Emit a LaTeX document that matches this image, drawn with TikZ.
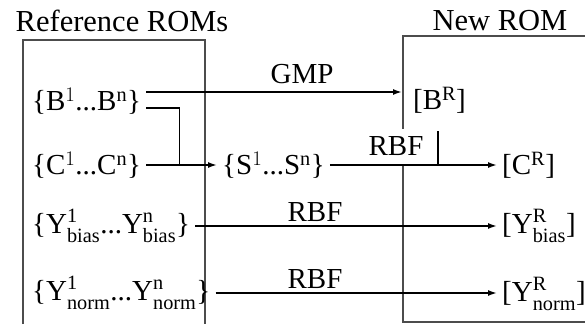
\documentclass[tikz,border=0pt]{standalone}
\usepackage{fontspec}
\setmainfont{Liberation Serif}
\usetikzlibrary{arrows.meta}

% raised superscript over lowered subscript
\newcommand{\supsub}[2]{$^{\raisebox{2pt}{$\scriptstyle\mathrm{#1}$}}_{\raisebox{-2.5pt}{$\scriptstyle\mathrm{#2}$}}$}

\begin{document}
\begin{tikzpicture}[x=1pt,y=-1pt]
	\tikzset{txt/.style = {font=\fontsize{29}{34}\selectfont, inner xsep=5pt, inner ysep=2pt},
		head/.style = {font=\fontsize{30.5}{36}\selectfont},
		arr/.style = {-{Latex[length=9pt,width=6pt]}, line width=1.6pt},
		wire/.style = {line width=1.6pt},
		frame/.style = {draw=black!70, line width=1.2pt}}
	\useasboundingbox (0,0) rectangle (585,324);

	% the two frames
	\draw[frame] (23,324) -- (23,40) -- (205,40) -- (205,324);
	\draw[frame] (585,36) -- (403,36) -- (403,322) -- (585,322);

	\node[head] (refT) at (122,21) {Reference ROMs};
	\node[head] (newT) at (500,21) {New ROM};

	% snapshots of the reference ROMs
	\node[txt, anchor=west] (refB) at (27,101) {\{B$^{1}$...B$^{\mathrm{n}}$\}};
	\node[txt, anchor=west] (refC) at (27,165) {\{C$^{1}$...C$^{\mathrm{n}}$\}};
	\node[txt, anchor=west] (refYb) at (27,226) {\{Y\supsub{1}{bias}...Y\supsub{n}{bias}\}};
	\node[txt, anchor=west] (refYn) at (27,293) {\{Y\supsub{1}{norm}...Y\supsub{n}{norm}\}};
	\node[txt, anchor=west] (snap) at (217,165) {\{S$^{1}$...S$^{\mathrm{n}}$\}};

	% interpolated ROM
	\node[txt, anchor=west, inner xsep=11pt] (newB) at (402,100) {[B$^{\mathrm{R}}$]};
	\node[txt, anchor=west] (newC) at (497,165) {[C$^{\mathrm{R}}$]};
	\node[txt, anchor=west] (newYb) at (497,226) {[Y\supsub{R}{bias}]};
	\node[txt, anchor=west] (newYn) at (497,294) {[Y\supsub{R}{norm}]};

	\node[txt] (gmp) at (302,74) {GMP};
	\node[txt, fill=white, inner xsep=3pt, minimum height=36pt] (rbfC) at (396,146.5) {RBF};
	\node[txt] (rbfYb) at (315,212) {RBF};
	\node[txt] (rbfYn) at (315,279) {RBF};

	\coordinate (join) at ([xshift=33pt]refC.east);
	\coordinate (tick) at (438,131);

	\draw[arr] ([yshift=9pt]refB.east) -- ([yshift=9pt]refB.east -| newB.west);
	\draw[wire] ([yshift=-7pt]refB.east) -| (join);
	\draw[arr] (refC.east) -- (snap.west);
	\draw[arr] (snap.east) -- (snap.east -| newC.west);
	\draw[wire] (tick) -- (tick |- newC.west);
	\draw[arr] (refYb.east) -- (refYb.east -| newYb.west);
	\draw[arr] (refYn.east) -- (refYn.east -| newYn.west);

\end{tikzpicture}
\end{document}
